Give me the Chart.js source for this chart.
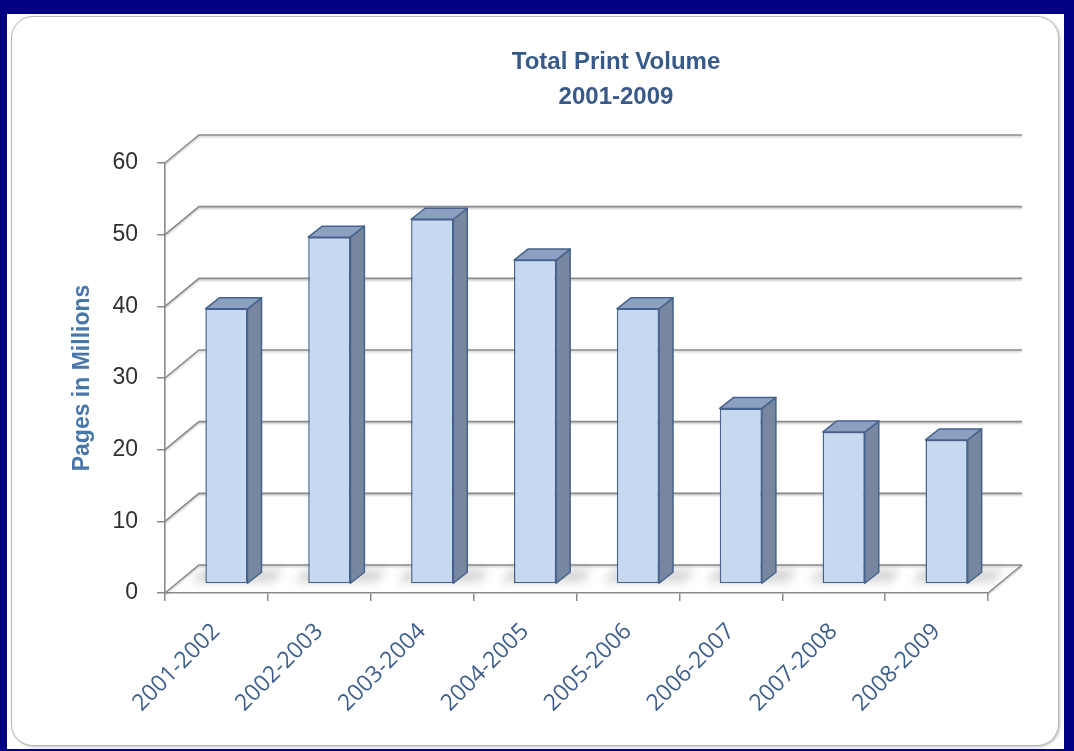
<!DOCTYPE html>
<html>
<head>
<meta charset="utf-8">
<title>Total Print Volume 2001-2009</title>
<script src="https://cdn.jsdelivr.net/npm/chart.js@4.4.1/dist/chart.umd.min.js"></script>
<style>
  html, body { margin: 0; padding: 0; }
  body { width: 1074px; height: 751px; background: #000080; position: relative; overflow: hidden; }
  .sheet { position: absolute; left: 7px; top: 14px; width: 1057px; height: 735px; background: #fff; }
  .panel {
    position: absolute; left: 4px; top: 2px; width: 1046px; height: 728px;
    border: 1.5px solid #b8b8b8; border-radius: 22px; background: #fff;
    box-shadow: 1px 1px 3px rgba(0, 0, 0, 0.25);
  }
  #chart-print-volume { position: absolute; left: 0; top: 0; }
</style>
</head>
<body>
<div class="sheet"><div class="panel"></div></div>
<canvas id="chart-print-volume" width="1074" height="751"></canvas>

<script>
/* ------------------------------------------------------------
   Print volume by fiscal year (pages, millions)
   ------------------------------------------------------------ */
const FISCAL_YEARS   = ['2001-2002', '2002-2003', '2003-2004', '2004-2005',
                        '2005-2006', '2006-2007', '2007-2008', '2008-2009'];
const PAGES_MILLIONS = [38.4, 48.4, 50.9, 45.2, 38.4, 24.5, 21.2, 20.1];
const Y_TICKS        = [0, 10, 20, 30, 40, 50, 60];
const CHART_TITLE    = ['Total Print Volume', '2001-2009'];
const Y_TITLE        = 'Pages in Millions';

const FONT_UI   = '"Liberation Sans", Arial, sans-serif';
const FONT_CAT  = '"Open Sans", "Noto Sans", sans-serif';

// fake-3D offsets: back wall, bar plane and bar thickness
const WALL      = { dx: 34, dy: -28 };
const BAR_SHIFT = { dx: 10, dy: -9 };
const BAR_SIDE  = { dx: 14, dy: -11 };

const GRID_COLOR = '#8a8a8a';

// back wall, floor and the side/top faces of each column
const depthPlugin = {
  id: 'depth3d',
  beforeDatasetsDraw(chart) {
    const { ctx, chartArea: a, scales: { y } } = chart;

    ctx.save();
    ctx.strokeStyle = GRID_COLOR;
    ctx.lineWidth = 1.6;
    ctx.shadowColor = 'rgba(0,0,0,0.22)';
    ctx.shadowOffsetY = 1.5;
    ctx.shadowBlur = 2;
    y.ticks.forEach((t, i) => {
      const py = y.getPixelForTick(i);
      ctx.beginPath();
      ctx.moveTo(a.left, py);
      ctx.lineTo(a.left + WALL.dx, py + WALL.dy);
      ctx.lineTo(a.right + WALL.dx, py + WALL.dy);
      ctx.stroke();
    });
    ctx.beginPath();
    ctx.moveTo(a.right, a.bottom);
    ctx.lineTo(a.right + WALL.dx, a.bottom + WALL.dy);
    ctx.stroke();
    ctx.restore();

    // columns stand part way back on the floor; restored in afterDatasetsDraw
    ctx.save();
    ctx.translate(BAR_SHIFT.dx, BAR_SHIFT.dy);

    const meta = chart.getDatasetMeta(0);
    ctx.save();
    ctx.filter = 'blur(5px)';
    ctx.fillStyle = 'rgba(0,0,0,0.16)';
    meta.data.forEach(bar => {
      const l = bar.x - bar.width / 2, r = bar.x + bar.width / 2, b = bar.base;
      ctx.beginPath();
      ctx.moveTo(l - 14, b - 1);
      ctx.lineTo(r + 26, b - 1);
      ctx.lineTo(r + 36, b - 14);
      ctx.lineTo(l - 2, b - 14);
      ctx.closePath();
      ctx.fill();
    });
    ctx.restore();
  },
  afterDatasetsDraw(chart) {
    const { ctx } = chart;
    const meta = chart.getDatasetMeta(0);

    ctx.lineWidth = 1.5;
    ctx.lineJoin = 'round';
    ctx.strokeStyle = '#45638e';
    meta.data.forEach(bar => {
      const l = bar.x - bar.width / 2, r = bar.x + bar.width / 2;
      const t = bar.y, b = bar.base;

      ctx.beginPath();
      ctx.moveTo(r, t);
      ctx.lineTo(r + BAR_SIDE.dx, t + BAR_SIDE.dy);
      ctx.lineTo(r + BAR_SIDE.dx, b + BAR_SIDE.dy);
      ctx.lineTo(r, b);
      ctx.closePath();
      ctx.fillStyle = '#76879f';
      ctx.fill();
      ctx.stroke();

      ctx.beginPath();
      ctx.moveTo(l, t);
      ctx.lineTo(l + BAR_SIDE.dx, t + BAR_SIDE.dy);
      ctx.lineTo(r + BAR_SIDE.dx, t + BAR_SIDE.dy);
      ctx.lineTo(r, t);
      ctx.closePath();
      ctx.fillStyle = '#8ca0c0';
      ctx.fill();
      ctx.stroke();
    });
    ctx.restore();
  },
};

// two-line heading, centred over the plot
const headingPlugin = {
  id: 'heading',
  afterDraw(chart, args, opts) {
    const { ctx } = chart;
    ctx.save();
    ctx.font = `bold ${opts.size}px ${FONT_UI}`;
    ctx.fillStyle = opts.color;
    ctx.textAlign = 'center';
    ctx.textBaseline = 'middle';
    opts.lines.forEach((line, i) => ctx.fillText(line, opts.x, opts.y + i * opts.gap));
    ctx.restore();
  },
};

new Chart(document.getElementById('chart-print-volume'), {
  type: 'bar',
  data: {
    labels: FISCAL_YEARS,
    datasets: [{
      label: 'Pages in Millions',
      data: PAGES_MILLIONS,
      backgroundColor: '#c6d9f1',
      borderColor: '#45638e',
      borderWidth: 1.5,
      borderSkipped: false,
      categoryPercentage: 1,
      barPercentage: 0.41,
      clip: false,
    }],
  },
  options: {
    responsive: false,
    animation: false,
    events: [],
    layout: { padding: { left: 63, top: 163, right: 86, bottom: 20 } },
    plugins: {
      legend: { display: false },
      tooltip: { enabled: false },
      heading: { lines: CHART_TITLE, x: 616, y: 62, gap: 35, size: 24, color: '#385a88' },
    },
    scales: {
      x: {
        afterFit: s => { s.height = 138; },
        grid: { drawOnChartArea: false, drawTicks: true, tickLength: 8, color: GRID_COLOR, lineWidth: 1.5 },
        border: { display: true, color: GRID_COLOR, width: 1.6 },
        ticks: {
          color: '#3d5f8b',
          font: { family: FONT_CAT, size: 23 },
          minRotation: 45,
          maxRotation: 45,
          padding: 17,
        },
      },
      y: {
        min: 0,
        max: 60,
        afterFit: s => { s.width = 102; },
        afterBuildTicks: s => { s.ticks = Y_TICKS.map(v => ({ value: v })); },
        grid: { drawOnChartArea: false, drawTicks: true, tickLength: 8, color: GRID_COLOR, lineWidth: 1.5 },
        border: { display: true, color: GRID_COLOR, width: 1.6 },
        ticks: {
          color: '#303030',
          font: { family: FONT_UI, size: 23 },
          padding: 19,
        },
        title: {
          display: true,
          text: Y_TITLE,
          color: '#4776aa',
          font: { family: FONT_UI, size: 23, weight: 'bold' },
          padding: { top: 6, bottom: 0 },
        },
      },
    },
  },
  plugins: [depthPlugin, headingPlugin],
});
</script>
</body>
</html>
